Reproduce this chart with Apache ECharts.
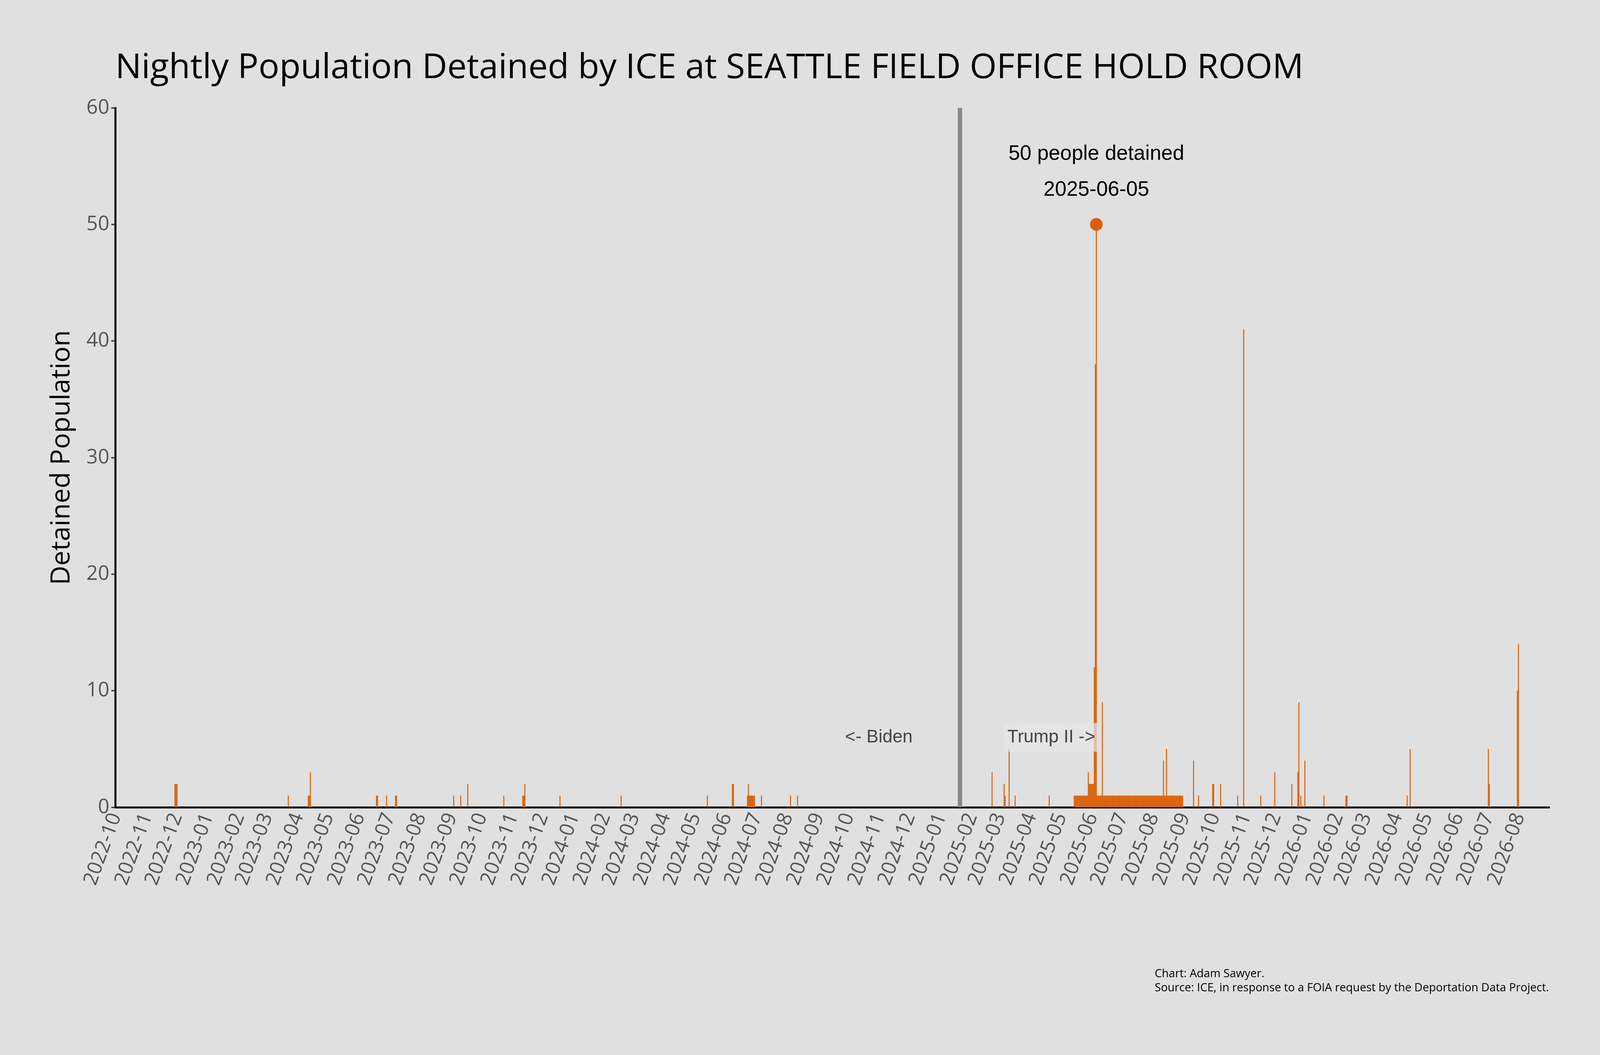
<!DOCTYPE html>
<html>
<head>
<meta charset="utf-8">
<script src="https://cdn.jsdelivr.net/npm/echarts@6/dist/echarts.min.js"></script>
<style>html,body{margin:0;padding:0;background:#e0e0e0;overflow:hidden}#main{width:100vw;height:100vh}</style>
</head>
<body>
<div id="main"></div>
<script>
// nights with people detained (every other night is 0)
const startDate = '2022-10-01';
const endDate = '2026-08-30';
const spotDates = [
  '2022-11-29','2022-11-30','2022-12-01','2023-03-22','2023-04-11','2023-04-12','2023-04-13',
  '2023-06-18','2023-06-19','2023-06-28','2023-07-07','2023-07-08','2023-09-03','2023-09-10',
  '2023-09-17','2023-10-23','2023-11-11','2023-11-12','2023-11-13','2023-12-18','2024-02-17',
  '2024-05-13','2024-06-07','2024-06-08','2024-06-22','2024-06-23','2024-06-24','2024-06-25',
  '2024-06-26','2024-06-27','2024-06-28','2024-06-29','2024-07-06','2024-08-04','2024-08-11',
  '2025-02-21','2025-03-05','2025-03-06','2025-03-10','2025-03-16','2025-04-19',
  '2025-05-28','2025-05-29','2025-05-30','2025-05-31','2025-06-01','2025-06-02',
  '2025-06-03','2025-06-04','2025-06-05','2025-06-11','2025-08-11','2025-08-14',
  '2025-09-10','2025-09-15','2025-09-29','2025-09-30','2025-10-07','2025-10-24','2025-10-30',
  '2025-11-16','2025-11-30','2025-12-17','2025-12-23','2025-12-24','2025-12-26','2025-12-30',
  '2026-01-18','2026-02-09','2026-02-10','2026-04-11','2026-04-14','2026-07-01','2026-07-02',
  '2026-07-30','2026-07-31'
];
const spotValues = [
  2,2,2,1,1,1,3,
  1,1,1,1,1,1,1,
  2,1,1,1,2,1,1,
  1,2,2,1,2,1,1,
  1,1,1,1,1,1,1,
  3,2,1,5,1,1,
  3,2,2,2,2,2,
  12,38,50,9,4,5,
  4,1,2,2,2,1,41,
  1,3,2,3,9,1,4,
  1,1,1,1,5,5,2,
  10,14
];
// stretch where 1 person was held every night
const baseStart = '2025-05-14';
const baseEnd = '2025-08-30';
const peakDate = '2025-06-05';
const peakValue = 50;
const inaugDate = '2025-01-20';

function fmt(d) { return d.toISOString().slice(0, 10); }
const days = [];
const values = [];
for (let d = new Date(startDate + 'T00:00:00Z'); fmt(d) <= endDate; d.setUTCDate(d.getUTCDate() + 1)) {
  const s = fmt(d);
  days.push(s);
  values.push(s >= baseStart && s <= baseEnd ? 1 : 0);
}
spotDates.forEach((s, i) => {
  const k = days.indexOf(s);
  if (k >= 0) values[k] = Math.max(values[k], spotValues[i]);
});

// everything was laid out for 4800x2700; scale to the real window
const W = window.innerWidth, H = window.innerHeight;
const sx = W / 4800, sy = H / 2700, s = Math.min(sx, sy);
const isMonthStart = (i, v) => v.slice(8) === '01';
const font = '"Open Sans", "Noto Sans", sans-serif';
const chart = echarts.init(document.getElementById('main'));
chart.setOption({
  backgroundColor: '#e0e0e0',
  animation: false,
  title: {
    text: 'Nightly Population Detained by ICE at SEATTLE FIELD OFFICE HOLD ROOM',
    left: 340 * sx, top: 125 * sy,
    textStyle: { fontSize: 104 * s, fontWeight: 'normal', color: '#000', fontFamily: font }
  },
  graphic: [{
    type: 'text', right: 153 * sx, top: 2475 * sy,
    style: {
      text: 'Chart: Adam Sawyer.\nSource: ICE, in response to a FOIA request by the Deportation Data Project.',
      align: 'right', fill: '#000', fontSize: 34 * s, lineHeight: 42 * s, fontFamily: font
    }
  }],
  grid: { left: 346 * sx, right: 153 * sx, top: 276 * sy, bottom: 634 * sy },
  xAxis: {
    type: 'category', data: days, boundaryGap: true,
    axisLine: { lineStyle: { color: '#000', width: 6 * s } },
    axisTick: { interval: isMonthStart, length: 14 * s, lineStyle: { color: '#333', width: 4 * s } },
    axisLabel: {
      interval: isMonthStart, rotate: 70, fontSize: 60 * s, color: '#555', fontFamily: font, margin: 20 * s,
      formatter: v => v.slice(0, 7)
    },
    splitLine: { show: false }
  },
  yAxis: {
    type: 'value', min: 0, max: 60, interval: 10,
    name: 'Detained Population', nameLocation: 'middle', nameGap: 120 * s,
    nameTextStyle: { fontSize: 80 * s, color: '#000', fontFamily: font },
    axisLine: { show: true, lineStyle: { color: '#000', width: 6 * s } },
    axisTick: { show: true, length: 12 * s, lineStyle: { color: '#333', width: 4 * s } },
    axisLabel: { fontSize: 60 * s, color: '#555', fontFamily: font, margin: 18 * s },
    splitLine: { show: false }
  },
  series: [{
    type: 'bar', data: values, barCategoryGap: '0%', barGap: '0%',
    itemStyle: { color: '#d95f02' },
    markLine: {
      silent: true, symbol: 'none', label: { show: false },
      lineStyle: { color: '#888', width: 13 * s, type: 'solid' },
      data: [{ xAxis: inaugDate }]
    },
    markPoint: {
      silent: true,
      data: [
        {
          coord: [peakDate, peakValue], symbol: 'circle', symbolSize: 38 * s,
          itemStyle: { color: '#d95f02' },
          label: {
            show: true, position: 'top', distance: 30 * s,
            formatter: '50 people detained\n' + peakDate,
            fontSize: 62 * s, lineHeight: 108 * s, color: '#000', fontFamily: 'Liberation Sans, Arial'
          }
        },
        {
          coord: ['2024-10-31', 6], symbol: 'rect', symbolSize: 1, itemStyle: { color: 'rgba(0,0,0,0)' },
          label: { show: true, position: 'inside', formatter: '<- Biden', fontSize: 54 * s, color: '#444', fontFamily: 'Liberation Sans, Arial' }
        },
        {
          coord: ['2025-04-21', 6], symbol: 'rect', symbolSize: 1, itemStyle: { color: 'rgba(0,0,0,0)' },
          label: {
            show: true, position: 'inside', formatter: 'Trump II ->', fontSize: 54 * s, color: '#444',
            fontFamily: 'Liberation Sans, Arial', backgroundColor: 'rgba(230,230,230,0.7)', padding: [16 * s, 10 * s]
          }
        }
      ]
    }
  }]
});
</script>
</body>
</html>
